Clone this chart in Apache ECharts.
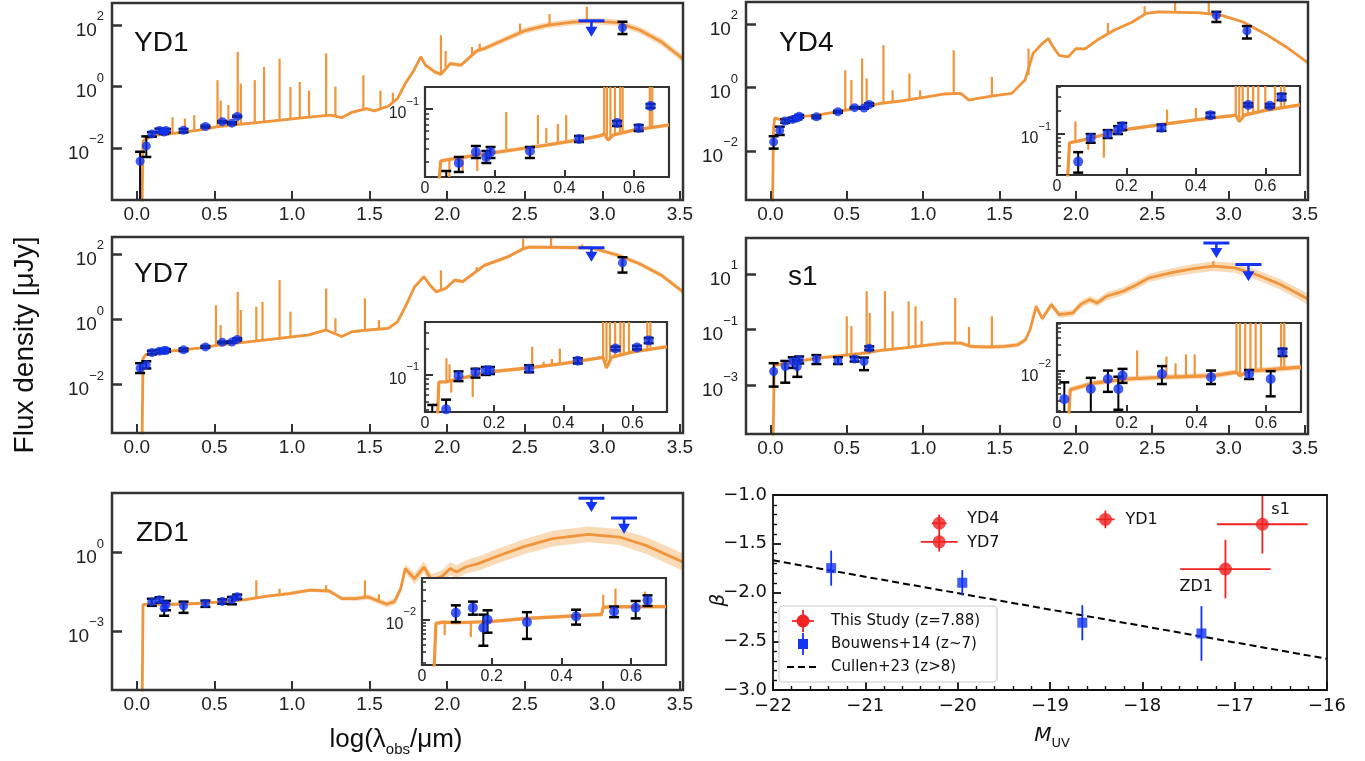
<!DOCTYPE html>
<html>
<head>
<meta charset="utf-8">
<title>SED fits and UV slopes</title>
<script src="https://cdn.jsdelivr.net/npm/echarts@6.0.0/dist/echarts.min.js"></script>
<style>
  html, body { margin: 0; padding: 0; background: #fff; }
  #chart { width: 1365px; height: 761px; }
</style>
</head>
<body>
<div id="chart"></div>
<script>
// x = log10(lambda_obs / um), y = log10(flux / uJy)
// model rows: [x, logF, band half-width]   lines: [x, continuum, peak]
// photometry: [x, logF, lower, upper]       limits: [x, logF, arrow tip]

const yd1Model = [
  [0.032,-4.5,0],[0.040,-1.78,0.03],[0.057,-1.70,0.03],[0.114,-1.59,0.03],[0.256,-1.51,0.03],
  [0.398,-1.42,0.03],[0.54,-1.29,0.03],[0.82,-1.15,0.03],[1.11,-0.99,0.03],[1.25,-0.93,0.03],
  [1.32,-1.01,0.04],[1.39,-0.83,0.04],[1.48,-0.72,0.04],[1.53,-0.79,0.04],[1.62,-0.64,0.05],
  [1.68,-0.39,0.05],[1.73,0.10,0.06],[1.78,0.48,0.06],[1.83,0.97,0.06],[1.86,0.70,0.06],
  [1.92,0.48,0.07],[1.96,0.40,0.07],[2.02,0.75,0.07],[2.09,0.70,0.07],[2.19,1.16,0.08],
  [2.24,1.24,0.08],[2.36,1.51,0.09],[2.50,1.82,0.1],[2.64,1.99,0.1],[2.81,2.10,0.1],
  [2.95,2.13,0.1],[3.10,2.08,0.11],[3.24,1.84,0.11],[3.38,1.46,0.12],[3.52,0.90,0.12]
];
const yd1Lines = [
  [0.23,-1.52,-0.99],[0.31,-1.47,-1.04],[0.37,-1.44,-0.93],[0.52,-1.30,0.21],[0.54,-1.29,-0.45],
  [0.59,-1.26,-0.60],[0.65,-1.23,1.13],[0.67,-1.22,0.10],[0.76,-1.18,0.21],[0.82,-1.15,0.64],
  [0.92,-1.10,0.91],[0.99,-1.06,-0.01],[1.05,-1.02,0.15],[1.11,-0.99,-0.13],[1.22,-0.95,1.08],
  [1.28,-0.96,0.00],[1.46,-0.74,0.37],[1.57,-0.75,-0.13],[1.65,-0.50,-0.20],[1.96,0.40,1.67],
  [1.99,0.55,1.16],[2.16,1.05,1.29],[2.21,1.20,1.40],[2.47,1.76,2.05],[2.66,2.00,2.36],[2.90,2.12,2.60]
];
const yd1Phot = [
  [0.021,-2.43,-4.0,-2.12],[0.061,-1.93,-2.29,-1.62],[0.097,-1.54,-1.63,-1.48],[0.146,-1.43,-1.49,-1.37],
  [0.176,-1.48,-1.54,-1.42],[0.188,-1.43,-1.49,-1.38],[0.301,-1.42,-1.49,-1.38],[0.442,-1.30,-1.33,-1.27],
  [0.551,-1.14,-1.17,-1.12],[0.613,-1.19,-1.22,-1.16],[0.647,-0.97,-0.99,-0.95],[3.13,1.92,1.71,2.11]
];
const yd1Lim = [[2.93,2.14,1.62]];
const yd1InsetModel = [
  [0.036,-1.9,0],[0.045,-1.52,0.02],[0.06,-1.51,0.02],[0.15,-1.46,0.02],[0.25,-1.41,0.02],
  [0.35,-1.36,0.02],[0.44,-1.31,0.02],[0.50,-1.27,0.02],[0.515,-1.25,0.02],[0.525,-1.31,0.02],
  [0.54,-1.26,0.02],[0.60,-1.21,0.02],[0.70,-1.16,0.02]
];
const yd1InsetLines = [
  [0.07,-1.51,-1.68],[0.108,-1.49,-1.64],[0.15,-1.46,-1.62],[0.233,-1.40,-1.03],[0.324,-1.35,-1.06],
  [0.348,-1.34,-1.19],[0.381,-1.33,-1.15],[0.405,-1.32,-1.06],[0.514,-1.26,-0.5],[0.522,-1.27,-0.5],
  [0.532,-1.28,-0.5],[0.545,-1.26,-0.5],[0.56,-1.25,-0.5],[0.567,-1.24,-0.5],[0.645,-1.19,-0.5],[0.652,-1.19,-0.5]
];

const yd4Model = [
  [0.012,-4.5,0],[0.020,-1.30,0.03],[0.028,-0.95,0.03],[0.056,-1.00,0.03],[0.154,-0.93,0.03],
  [0.294,-0.87,0.03],[0.434,-0.76,0.03],[0.574,-0.64,0.03],[0.714,-0.50,0.03],[0.854,-0.42,0.03],
  [0.994,-0.31,0.03],[1.134,-0.20,0.03],[1.246,-0.18,0.03],[1.30,-0.39,0.03],[1.358,-0.34,0.03],
  [1.47,-0.25,0.03],[1.58,-0.18,0.03],[1.667,0.24,0.03],[1.72,1.08,0.04],[1.78,1.39,0.04],
  [1.82,1.55,0.04],[1.85,1.29,0.04],[1.89,1.02,0.04],[1.95,0.97,0.04],[2.0,1.23,0.04],
  [2.06,1.22,0.04],[2.14,1.50,0.04],[2.25,1.81,0.04],[2.37,2.07,0.04],[2.46,2.34,0.04],
  [2.54,2.39,0.04],[2.815,2.36,0.04],[2.955,2.28,0.04],[3.095,2.07,0.04],[3.235,1.71,0.04],
  [3.375,1.29,0.04],[3.52,0.78,0.04]
];
const yd4Lines = [
  [0.49,-0.72,0.55],[0.53,-0.70,0.24],[0.60,-0.63,0.92],[0.63,-0.62,0.29],[0.74,-0.48,1.34],
  [0.80,-0.45,-0.08],[0.91,-0.38,0.45],[0.98,-0.32,-0.08],[1.20,-0.19,1.18],[1.45,-0.26,0.34],
  [1.69,0.40,1.23],[2.21,1.70,2.04],[2.45,2.30,2.57],[2.65,2.38,2.80],[2.87,2.33,2.80]
];
const yd4Phot = [
  [0.021,-1.71,-1.92,-1.53],[0.061,-1.35,-1.49,-1.23],[0.097,-1.05,-1.11,-1.00],[0.146,-1.00,-1.05,-0.95],
  [0.176,-0.95,-1.00,-0.90],[0.188,-0.90,-0.95,-0.86],[0.301,-0.92,-0.96,-0.88],[0.442,-0.76,-0.79,-0.73],
  [0.551,-0.63,-0.65,-0.61],[0.613,-0.64,-0.66,-0.62],[0.647,-0.53,-0.57,-0.49],
  [2.92,2.28,2.07,2.39],[3.12,1.79,1.55,1.94]
];
const yd4InsetModel = [
  [0.030,-1.6,0],[0.036,-1.11,0.02],[0.06,-1.09,0.02],[0.10,-1.05,0.02],[0.15,-0.99,0.02],
  [0.20,-0.94,0.02],[0.30,-0.88,0.02],[0.40,-0.82,0.02],[0.50,-0.77,0.02],[0.515,-0.76,0.02],
  [0.525,-0.84,0.02],[0.54,-0.76,0.02],[0.60,-0.70,0.02],[0.70,-0.63,0.02]
];
const yd4InsetLines = [
  [0.053,-1.09,-0.84],[0.09,-1.06,-1.20],[0.135,-1.00,-1.30],[0.317,-0.87,-0.69],[0.40,-0.82,-0.67],
  [0.515,-0.76,-0.3],[0.525,-0.80,-0.3],[0.535,-0.78,-0.3],[0.55,-0.76,-0.3],[0.565,-0.74,-0.3],
  [0.58,-0.73,-0.3],[0.60,-0.70,-0.3],[0.628,-0.68,-0.3],[0.645,-0.67,-0.3],[0.655,-0.66,-0.3]
];

const yd7Model = [
  [0.032,-4.5,0],[0.040,-1.20,0.03],[0.057,-1.08,0.03],[0.114,-1.01,0.03],[0.256,-0.95,0.03],
  [0.398,-0.88,0.03],[0.54,-0.78,0.03],[0.82,-0.63,0.03],[1.11,-0.47,0.04],[1.22,-0.32,0.04],
  [1.32,-0.52,0.04],[1.39,-0.37,0.04],[1.50,-0.32,0.05],[1.62,-0.27,0.05],[1.68,-0.07,0.05],
  [1.73,0.39,0.06],[1.79,1.00,0.06],[1.85,1.31,0.06],[1.89,1.05,0.06],[1.93,0.85,0.06],
  [1.99,0.95,0.06],[2.05,1.21,0.06],[2.10,1.16,0.06],[2.24,1.66,0.06],[2.39,1.92,0.06],
  [2.49,2.17,0.06],[2.53,2.22,0.06],[2.93,2.20,0.06],[3.10,1.97,0.07],[3.24,1.71,0.07],
  [3.38,1.36,0.07],[3.52,0.85,0.07]
];
const yd7Lines = [
  [0.51,-0.80,0.44],[0.54,-0.78,-0.17],[0.65,-0.72,0.85],[0.67,-0.71,0.29],[0.77,-0.67,0.39],
  [0.81,-0.65,0.54],[0.92,-0.58,1.21],[0.99,-0.53,0.24],[1.22,-0.35,0.95],[1.28,-0.40,0.04],
  [1.47,-0.33,0.65],[1.56,-0.30,-0.02],[1.96,0.90,1.51],[2.19,1.50,1.61],[2.49,2.15,2.48],
  [2.67,2.20,2.80],[2.87,2.20,2.30]
];
const yd7Phot = [
  [0.021,-1.49,-1.64,-1.34],[0.061,-1.39,-1.50,-1.28],[0.097,-1.01,-1.07,-0.96],[0.146,-0.97,-1.03,-0.93],
  [0.176,-0.95,-1.00,-0.91],[0.188,-0.95,-0.99,-0.91],[0.301,-0.93,-0.97,-0.89],[0.442,-0.84,-0.87,-0.81],
  [0.551,-0.70,-0.72,-0.68],[0.613,-0.69,-0.71,-0.67],[0.647,-0.61,-0.64,-0.58],[3.13,1.74,1.44,1.91]
];
const yd7Lim = [[2.93,2.20,1.77]];
const yd7InsetModel = [
  [0.036,-1.5,0],[0.040,-1.08,0.02],[0.06,-1.08,0.02],[0.10,-1.04,0.02],[0.15,-1.00,0.02],
  [0.20,-0.96,0.02],[0.30,-0.92,0.02],[0.40,-0.87,0.02],[0.50,-0.81,0.02],[0.515,-0.80,0.02],
  [0.525,-0.92,0.02],[0.54,-0.80,0.02],[0.60,-0.74,0.02],[0.70,-0.68,0.02]
];
const yd7InsetLines = [
  [0.062,-1.08,-0.81],[0.071,-1.07,-0.88],[0.076,-1.07,-1.20],[0.138,-1.00,-1.25],[0.31,-0.92,-0.68],
  [0.343,-0.90,-0.85],[0.367,-0.89,-0.82],[0.39,-0.88,-0.70],[0.515,-0.80,-0.3],[0.525,-0.85,-0.3],
  [0.535,-0.82,-0.3],[0.55,-0.79,-0.3],[0.565,-0.78,-0.3],[0.575,-0.77,-0.3],[0.59,-0.76,-0.3],
  [0.643,-0.72,-0.3],[0.652,-0.71,-0.3]
];

const s1Model = [
  [0.017,-5,0],[0.025,-2.28,0.06],[0.03,-2.26,0.06],[0.167,-2.14,0.06],[0.306,-2.02,0.06],
  [0.446,-1.94,0.06],[0.585,-1.86,0.06],[0.724,-1.74,0.06],[0.864,-1.66,0.06],[1.0,-1.57,0.06],
  [1.14,-1.48,0.07],[1.25,-1.48,0.07],[1.31,-1.60,0.07],[1.42,-1.62,0.07],[1.53,-1.60,0.08],
  [1.62,-1.54,0.08],[1.67,-1.36,0.09],[1.70,-1.00,0.1],[1.74,-0.16,0.1],[1.78,-0.60,0.1],
  [1.84,-0.10,0.1],[1.89,-0.46,0.12],[1.98,-0.40,0.12],[2.03,-0.10,0.13],[2.09,0.08,0.13],
  [2.14,-0.04,0.13],[2.20,0.20,0.14],[2.31,0.38,0.14],[2.40,0.62,0.15],[2.48,0.86,0.15],
  [2.62,1.04,0.16],[2.76,1.18,0.17],[2.90,1.28,0.17],[3.04,1.22,0.18],[3.18,0.98,0.18],
  [3.34,0.62,0.19],[3.52,0.10,0.2]
];
const s1Lines = [
  [0.50,-1.95,-0.52],[0.53,-1.93,-0.87],[0.63,-1.89,0.38],[0.65,-1.88,-0.40],[0.75,-1.73,0.38],
  [0.80,-1.70,-0.34],[0.905,-1.64,0.02],[0.95,-1.62,-0.16],[0.99,-1.58,-0.69],[1.21,-1.48,0.14],
  [1.30,-1.55,-0.90],[1.45,-1.62,-0.52],[2.90,1.28,1.46]
];
const s1Phot = [
  [0.021,-2.50,-3.04,-2.20],[0.097,-2.32,-2.90,-2.12],[0.146,-2.14,-2.37,-1.99],[0.176,-2.32,-2.69,-2.10],
  [0.188,-2.08,-2.21,-1.96],[0.301,-2.05,-2.23,-1.91],[0.442,-2.11,-2.23,-1.99],[0.551,-2.05,-2.14,-1.98],
  [0.613,-2.14,-2.45,-2.00],[0.647,-1.66,-1.73,-1.60]
];
const s1Lim = [[2.92,2.11,1.57],[3.13,1.34,0.74]];
const s1InsetModel = [
  [0.033,-2.9,0],[0.038,-2.33,0.05],[0.05,-2.31,0.05],[0.10,-2.22,0.05],[0.20,-2.14,0.05],
  [0.30,-2.11,0.05],[0.45,-2.08,0.05],[0.50,-2.03,0.05],[0.515,-2.02,0.05],[0.525,-2.08,0.05],
  [0.55,-2.00,0.05],[0.70,-1.93,0.05]
];
const s1InsetLines = [
  [0.23,-2.13,-1.63],[0.314,-2.11,-1.74],[0.34,-2.10,-1.86],[0.37,-2.10,-1.70],[0.395,-2.09,-1.70],
  [0.515,-2.02,-1.1],[0.525,-2.05,-1.1],[0.54,-2.03,-1.1],[0.555,-2.00,-1.1],[0.57,-2.00,-1.1],
  [0.585,-1.99,-1.1],[0.643,-1.96,-1.1],[0.652,-1.96,-1.1]
];

const zd1Model = [
  [0.034,-6,0],[0.040,-1.99,0.04],[0.06,-1.98,0.04],[0.30,-1.98,0.05],[0.55,-1.89,0.05],
  [0.70,-1.80,0.06],[0.84,-1.67,0.06],[0.98,-1.57,0.07],[1.12,-1.44,0.07],[1.24,-1.47,0.08],
  [1.32,-1.76,0.08],[1.41,-1.76,0.09],[1.49,-1.70,0.1],[1.61,-1.98,0.12],[1.66,-1.88,0.13],
  [1.70,-1.40,0.15],[1.73,-0.61,0.18],[1.79,-1.00,0.2],[1.85,-0.55,0.22],[1.90,-1.06,0.23],
  [1.97,-0.90,0.24],[2.02,-0.61,0.25],[2.06,-0.74,0.25],[2.12,-0.55,0.26],[2.20,-0.42,0.27],
  [2.34,-0.10,0.28],[2.49,0.22,0.29],[2.68,0.54,0.30],[2.91,0.70,0.30],[3.11,0.60,0.31],
  [3.28,0.28,0.32],[3.52,-0.36,0.33]
];
const zd1Lines = [
  [0.53,-1.90,-1.76],[0.77,-1.75,-1.06],[0.92,-1.60,-1.38],[1.22,-1.46,-1.25],[1.47,-1.72,-1.06],[1.56,-1.85,-1.60]
];
const zd1Phot = [
  [0.097,-1.89,-2.04,-1.77],[0.146,-1.81,-1.92,-1.71],[0.176,-2.13,-2.42,-1.92],[0.188,-2.00,-2.21,-1.85],
  [0.301,-2.04,-2.31,-1.88],[0.442,-1.95,-2.08,-1.84],[0.551,-1.87,-1.96,-1.79],[0.613,-1.81,-1.98,-1.70],
  [0.647,-1.69,-1.78,-1.61]
];
const zd1Lim = [[2.93,2.09,1.56],[3.14,1.33,0.73]];
const zd1InsetModel = [
  [0.034,-2.9,0],[0.040,-2.06,0.03],[0.06,-2.04,0.03],[0.10,-2.05,0.03],[0.20,-2.03,0.03],
  [0.30,-1.98,0.03],[0.40,-1.95,0.03],[0.50,-1.92,0.03],[0.515,-1.92,0.03],[0.52,-1.80,0.03],
  [0.60,-1.79,0.03],[0.70,-1.79,0.03]
];
const zd1InsetLines = [
  [0.065,-2.04,-2.25],[0.14,-2.03,-2.28],[0.52,-1.85,-1.60],[0.555,-1.80,-1.50],[0.64,-1.78,-1.55]
];

// UV slope panel
const thisNames = ['YD4', 'YD7', 'YD1', 's1', 'ZD1'];
const thisM = [-20.20, -20.20, -18.40, -16.70, -17.10];
const thisBeta = [-1.29, -1.48, -1.25, -1.30, -1.76];
const thisMErr = [0.08, 0.20, 0.10, 0.49, 0.49];
const thisBetaErr = [0.09, 0.10, 0.09, 0.30, 0.30];
const bouwensM = [-21.37, -19.95, -18.65, -17.36];
const bouwensBeta = [-1.75, -1.90, -2.31, -2.42];
const bouwensErr = [0.18, 0.13, 0.18, 0.28];
const cullenM = [-22, -16];
const cullenBeta = [-1.67, -2.68];

const mainXTicks = [0, 0.5, 1, 1.5, 2, 2.5, 3, 3.5];
const insetXTicks = [0.2, 0.4, 0.6];
const insetXLabels = [0, 0.2, 0.4, 0.6];

const ORANGE = '#f0953b', BAND = 'rgba(245,190,125,0.55)', BLUE = '#1233f2', RED = '#f02222';
const FONT = '"Liberation Sans", Arial, sans-serif';
const DJ = '"DejaVu Sans", sans-serif';

const panels = [
  {name: 'YD1', box: [112, 3, 683, 200], y: [-3.69, 2.72], yt: [-2, 0, 2], nameAt: [134, 43],
   model: yd1Model, lines: yd1Lines, phot: yd1Phot, lim: yd1Lim,
   inset: {box: [425, 87, 669, 177], y: [-1.68, -0.78], major: [-1], model: yd1InsetModel, lines: yd1InsetLines}},
  {name: 'YD4', box: [746, 2, 1308, 200], y: [-3.54, 2.70], yt: [-2, 0, 2], nameAt: [779, 43],
   model: yd4Model, lines: yd4Lines, phot: yd4Phot, lim: null,
   inset: {box: [1057, 86, 1300, 175], y: [-1.52, -0.39], major: [-1], model: yd4InsetModel, lines: yd4InsetLines}},
  {name: 'YD7', box: [112, 237, 683, 433], y: [-3.48, 2.53], yt: [-2, 0, 2], nameAt: [134, 274],
   model: yd7Model, lines: yd7Lines, phot: yd7Phot, lim: yd7Lim,
   inset: {box: [425, 322, 667, 412], y: [-1.42, -0.40], major: [-1], model: yd7InsetModel, lines: yd7InsetLines}},
  {name: 's1', box: [746, 238, 1308, 434], y: [-4.74, 2.29], yt: [-3, -1, 1], nameAt: [788, 277],
   model: s1Model, lines: s1Lines, phot: s1Phot, lim: s1Lim,
   inset: {box: [1057, 323, 1301, 412], y: [-2.73, -1.14], major: [-2], model: s1InsetModel, lines: s1InsetLines}},
  {name: 'ZD1', box: [112, 493, 683, 690], y: [-5.27, 2.29], yt: [-3, 0], nameAt: [136, 533],
   model: zd1Model, lines: zd1Lines, phot: zd1Phot, lim: zd1Lim,
   inset: {box: [422, 578, 666, 665], y: [-2.73, -1.33], major: [-2], model: zd1InsetModel, lines: zd1InsetLines}}
];

const chart = echarts.init(document.getElementById('chart'));
const grid = [], xAxis = [], yAxis = [], series = [], graphic = [];

function addGrid(box, opt) {
  grid.push(Object.assign({
    left: box[0], top: box[1], width: box[2] - box[0], height: box[3] - box[1],
    show: true, containLabel: false, outerBoundsMode: 'none'
  }, opt));
  return grid.length - 1;
}

function expLabel(v) {
  return '{b|10}{s|' + String(Math.round(v)).replace('-', '\u2212') + '}';
}

function logMinor(lo, hi) {
  const out = [];
  for (let n = Math.floor(lo); n <= Math.ceil(hi); n++) {
    for (let k = 2; k <= 9; k++) {
      const v = n + Math.log10(k);
      if (v > lo && v < hi) out.push(v);
    }
  }
  return out;
}

function seg(a, b, color, w) {
  return {type: 'line', shape: {x1: a[0], y1: a[1], x2: b[0], y2: b[1]}, style: {stroke: color, lineWidth: w}};
}

const noLine = {show: false, onZero: false};

function sedSeries(d, xi, yi, z, inset) {
  const common = {xAxisIndex: xi, yAxisIndex: yi, silent: true};
  series.push(Object.assign({
    type: 'custom', z: z, clip: true,
    data: [[d.model[0][0], d.model[0][1]]],
    renderItem: (prm, api) => {
      const up = d.model.map(m => api.coord([m[0], m[1] + m[2]]));
      const lo = d.model.map(m => api.coord([m[0], m[1] - m[2]])).reverse();
      return {type: 'polygon', shape: {points: up.concat(lo)}, style: {fill: BAND}};
    }
  }, common));
  series.push(Object.assign({
    type: 'line', z: z + 1, clip: true, symbol: 'none',
    data: d.model.map(m => [m[0], m[1]]),
    lineStyle: {color: ORANGE, width: inset ? 3.2 : 2.8}
  }, common));
  series.push(Object.assign({
    type: 'custom', z: z + 1, clip: true, data: d.lines,
    renderItem: (prm, api) => {
      const x = api.value(0);
      return seg(api.coord([x, api.value(1)]), api.coord([x, api.value(2)]), ORANGE, 2.2);
    }
  }, common));
  series.push(Object.assign({
    type: 'custom', z: z + 2, clip: true, data: d.phot,
    renderItem: (prm, api) => {
      const x = api.value(0);
      const lo = api.coord([x, api.value(2)]), hi = api.coord([x, api.value(3)]);
      const c = 5;
      return {type: 'group', children: [
        seg(lo, hi, '#000', 2),
        seg([lo[0] - c, lo[1]], [lo[0] + c, lo[1]], '#000', 2.5),
        seg([hi[0] - c, hi[1]], [hi[0] + c, hi[1]], '#000', 2.5)
      ]};
    }
  }, common));
  series.push(Object.assign({
    type: 'scatter', z: z + 3, clip: true, symbolSize: inset ? 10 : 9,
    data: d.phot.map(q => [q[0], q[1]]),
    itemStyle: {color: BLUE}
  }, common));
  if (d.lim) {
    series.push(Object.assign({
      type: 'custom', z: z + 3, clip: false, data: d.lim,
      renderItem: (prm, api) => {
        const a = api.coord([api.value(0), api.value(1)]), t = api.coord([api.value(0), api.value(2)]);
        return {type: 'group', children: [
          seg([a[0] - 13, a[1]], [a[0] + 13, a[1]], BLUE, 3),
          seg(a, [t[0], t[1] - 9], BLUE, 2.5),
          {type: 'polygon', shape: {points: [[t[0] - 6, t[1] - 10], [t[0] + 6, t[1] - 10], [t[0], t[1]]]}, style: {fill: BLUE}}
        ]};
      }
    }, common));
  }
}

panels.forEach(p => {
  // main panel
  const g = addGrid(p.box, {borderColor: '#333', borderWidth: 2.5, backgroundColor: 'transparent', z: 5});
  xAxis.push({
    gridIndex: g, type: 'value', min: -0.16, max: 3.52, z: 6, position: 'bottom',
    axisLine: noLine, splitLine: {show: false},
    axisTick: {inside: true, length: 9, lineStyle: {color: '#333', width: 2}, customValues: mainXTicks},
    axisLabel: {customValues: mainXTicks, formatter: v => v.toFixed(1), fontSize: 19, fontFamily: FONT, color: '#222', margin: 5}
  });
  const xi = xAxis.length - 1;
  yAxis.push({
    gridIndex: g, type: 'value', min: p.y[0], max: p.y[1], z: 6, position: 'left',
    axisLine: noLine, splitLine: {show: false},
    axisTick: {inside: true, length: 10, lineStyle: {color: '#333', width: 2.5}, customValues: p.yt},
    axisLabel: {
      customValues: p.yt, formatter: expLabel, margin: 8,
      rich: {
        b: {fontSize: 19, fontFamily: FONT, color: '#222', lineHeight: 30, verticalAlign: 'bottom'},
        s: {fontSize: 13, fontFamily: FONT, color: '#222', lineHeight: 13, verticalAlign: 'top'}
      }
    }
  });
  const yi = yAxis.length - 1;
  sedSeries({model: p.model, lines: p.lines, phot: p.phot, lim: p.lim}, xi, yi, 1, false);

  // inset
  const ins = p.inset;
  const gi = addGrid(ins.box, {borderColor: '#333', borderWidth: 2.2, backgroundColor: '#fff', z: 10});
  xAxis.push({
    gridIndex: gi, type: 'value', min: 0, max: 0.7, z: 16, position: 'bottom',
    axisLine: noLine, splitLine: {show: false},
    axisTick: {inside: true, length: 7, lineStyle: {color: '#333', width: 2}, customValues: insetXTicks},
    axisLabel: {customValues: insetXLabels, formatter: v => (v === 0 ? '0' : v.toFixed(1)), fontSize: 16, fontFamily: FONT, color: '#222', margin: 4}
  });
  const xii = xAxis.length - 1;
  yAxis.push({
    gridIndex: gi, type: 'value', min: ins.y[0], max: ins.y[1], z: 16, position: 'left',
    axisLine: noLine, splitLine: {show: false},
    axisTick: {inside: true, length: 8, lineStyle: {color: '#333', width: 2}, customValues: ins.major},
    axisLabel: {
      customValues: ins.major, formatter: expLabel, margin: 6,
      rich: {
        b: {fontSize: 16, fontFamily: FONT, color: '#222', lineHeight: 26, verticalAlign: 'bottom'},
        s: {fontSize: 11, fontFamily: FONT, color: '#222', lineHeight: 11, verticalAlign: 'top'}
      }
    }
  });
  const yii = yAxis.length - 1;
  yAxis.push({
    gridIndex: gi, type: 'value', min: ins.y[0], max: ins.y[1], z: 16, position: 'left',
    axisLine: noLine, splitLine: {show: false},
    axisTick: {inside: true, length: 4, lineStyle: {color: '#333', width: 1.6}, customValues: logMinor(ins.y[0], ins.y[1])},
    axisLabel: {show: false}
  });
  sedSeries({model: ins.model, lines: ins.lines, phot: p.phot, lim: null}, xii, yii, 11, true);

  graphic.push({type: 'text', x: p.nameAt[0], y: p.nameAt[1], z: 30,
    style: {text: p.name, fontSize: 28, fontFamily: FONT, fill: '#111', verticalAlign: 'middle'}});
});

// UV slope vs M_UV
const gs = addGrid([773, 495, 1327, 690], {borderColor: '#111', borderWidth: 1.8, backgroundColor: 'transparent', z: 5});
const minusFmt = d => v => v.toFixed(d).replace('-', '\u2212');
xAxis.push({
  gridIndex: gs, type: 'value', min: -22, max: -16, interval: 1, z: 6, position: 'bottom',
  axisLine: noLine, splitLine: {show: false},
  axisTick: {inside: true, length: 8, lineStyle: {color: '#111', width: 1.8}},
  minorTick: {show: true, splitNumber: 5, length: 4, lineStyle: {color: '#111', width: 1.4}},
  axisLabel: {formatter: minusFmt(0), fontSize: 18, fontFamily: DJ, color: '#111', margin: 7}
});
const sx = xAxis.length - 1;
yAxis.push({
  gridIndex: gs, type: 'value', min: -3, max: -1, interval: 0.5, z: 6, position: 'left',
  axisLine: noLine, splitLine: {show: false},
  axisTick: {inside: true, length: 8, lineStyle: {color: '#111', width: 1.8}},
  minorTick: {show: true, splitNumber: 5, length: 4, lineStyle: {color: '#111', width: 1.4}},
  axisLabel: {formatter: minusFmt(1), fontSize: 18, fontFamily: DJ, color: '#111', margin: 6}
});
const sy = yAxis.length - 1;

series.push({
  type: 'line', xAxisIndex: sx, yAxisIndex: sy, z: 2, symbol: 'none', silent: true,
  data: cullenM.map((m, i) => [m, cullenBeta[i]]),
  lineStyle: {color: '#000', width: 2, type: [7, 4]}
});
series.push({
  type: 'custom', xAxisIndex: sx, yAxisIndex: sy, z: 3, clip: true, silent: true,
  data: bouwensM.map((m, i) => [m, bouwensBeta[i], bouwensBeta[i] - bouwensErr[i], bouwensBeta[i] + bouwensErr[i]]),
  renderItem: (prm, api) => seg(api.coord([api.value(0), api.value(2)]), api.coord([api.value(0), api.value(3)]), BLUE, 1.8)
});
series.push({
  type: 'scatter', xAxisIndex: sx, yAxisIndex: sy, z: 4, symbol: 'rect', symbolSize: 10, silent: true,
  data: bouwensM.map((m, i) => [m, bouwensBeta[i]]), itemStyle: {color: BLUE}
});
series.push({
  type: 'custom', xAxisIndex: sx, yAxisIndex: sy, z: 3, clip: true, silent: true,
  data: thisM.map((m, i) => [m, thisBeta[i], m - thisMErr[i], m + thisMErr[i], thisBeta[i] - thisBetaErr[i], thisBeta[i] + thisBetaErr[i]]),
  renderItem: (prm, api) => {
    const x = api.value(0), y = api.value(1);
    return {type: 'group', children: [
      seg(api.coord([api.value(2), y]), api.coord([api.value(3), y]), RED, 1.8),
      seg(api.coord([x, api.value(4)]), api.coord([x, api.value(5)]), RED, 1.8)
    ]};
  }
});
series.push({
  type: 'scatter', xAxisIndex: sx, yAxisIndex: sy, z: 4, symbolSize: 13, silent: true,
  data: thisM.map((m, i) => [m, thisBeta[i]]), itemStyle: {color: RED}
});
const nameOffset = [[28, -4], [28, 1], [20, 0], [9, -14], [-46, 18]];
series.push({
  type: 'custom', xAxisIndex: sx, yAxisIndex: sy, z: 5, silent: true,
  data: thisM.map((m, i) => [m, thisBeta[i]]),
  renderItem: (prm, api) => {
    const c = api.coord([api.value(0), api.value(1)]);
    const o = nameOffset[prm.dataIndex];
    return {type: 'text', x: c[0] + o[0], y: c[1] + o[1],
      style: {text: thisNames[prm.dataIndex], fontSize: 16, fontFamily: DJ, fill: '#111', verticalAlign: 'middle'}};
  }
});

// legend box
graphic.push({type: 'rect', z: 30, shape: {x: 779, y: 606, width: 218, height: 76, r: 4},
  style: {fill: 'rgba(255,255,255,0.85)', stroke: '#cccccc', lineWidth: 1.2}});
graphic.push(Object.assign(seg([792, 621], [814, 621], RED, 1.8), {z: 31}));
graphic.push(Object.assign(seg([803, 610], [803, 632], RED, 1.8), {z: 31}));
graphic.push({type: 'circle', z: 31, shape: {cx: 803, cy: 621, r: 6.5}, style: {fill: RED}});
graphic.push(Object.assign(seg([803, 633], [803, 655], BLUE, 1.8), {z: 31}));
graphic.push({type: 'rect', z: 31, shape: {x: 798, y: 639, width: 10, height: 10}, style: {fill: BLUE}});
graphic.push({type: 'line', z: 31, shape: {x1: 787, y1: 667, x2: 819, y2: 667}, style: {stroke: '#000', lineWidth: 2, lineDash: [7, 4]}});
[['This Study (z=7.88)', 621], ['Bouwens+14 (z~7)', 644], ['Cullen+23 (z>8)', 667]].forEach(t => {
  graphic.push({type: 'text', z: 31, x: 831, y: t[1],
    style: {text: t[0], fontSize: 15, fontFamily: DJ, fill: '#111', verticalAlign: 'middle'}});
});

// axis titles
graphic.push({type: 'text', z: 30, x: 25, y: 345, rotation: Math.PI / 2,
  style: {text: 'Flux density [\u03bcJy]', fontSize: 28, fontFamily: FONT, fill: '#111', align: 'center', verticalAlign: 'middle'}});
graphic.push({type: 'text', z: 30, x: 396, y: 742,
  style: {
    text: '{a|log(\u03bb}{b|obs}{a|/\u03bcm)}', align: 'center', verticalAlign: 'middle',
    rich: {
      a: {fontSize: 26, fontFamily: FONT, fill: '#111', lineHeight: 30, verticalAlign: 'top'},
      b: {fontSize: 15, fontFamily: FONT, fill: '#111', lineHeight: 15, verticalAlign: 'bottom'}
    }
  }});
graphic.push({type: 'text', z: 30, x: 719, y: 600, rotation: Math.PI / 2,
  style: {text: '\u03b2', fontSize: 20, fontStyle: 'italic', fontFamily: DJ, fill: '#111', align: 'center', verticalAlign: 'middle'}});
graphic.push({type: 'text', z: 30, x: 1052, y: 738,
  style: {
    text: '{m|M}{u|UV}', align: 'center', verticalAlign: 'middle',
    rich: {
      m: {fontSize: 20, fontStyle: 'italic', fontFamily: DJ, fill: '#111', lineHeight: 24, verticalAlign: 'top'},
      u: {fontSize: 13, fontFamily: DJ, fill: '#111', lineHeight: 13, verticalAlign: 'bottom'}
    }
  }});

chart.setOption({
  animation: false,
  backgroundColor: '#fff',
  grid: grid,
  xAxis: xAxis,
  yAxis: yAxis,
  series: series,
  graphic: {elements: graphic}
});
</script>
</body>
</html>
